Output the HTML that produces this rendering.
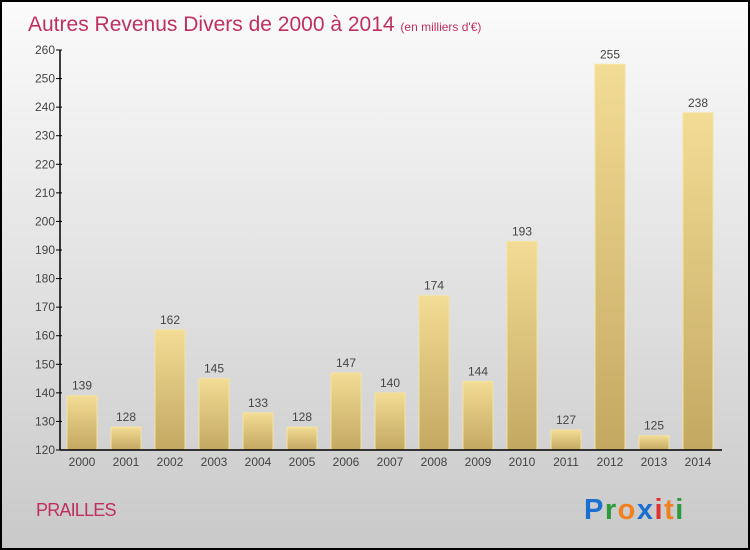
<!DOCTYPE html>
<html><head><meta charset="utf-8"><style>
body{margin:0}
#c{position:relative;width:750px;height:550px;box-sizing:border-box;border:2px solid #000;background:linear-gradient(#fbfbfb,#c9c9c9);font-family:"Liberation Sans",sans-serif;overflow:hidden}
</style></head><body>
<div id="c">
<svg width="746" height="546" style="position:absolute;left:0;top:0" id="svg">
<defs><linearGradient id="bg" x1="0" y1="0" x2="0" y2="1"><stop offset="0" stop-color="#f3dc95"/><stop offset="1" stop-color="#c3a862"/></linearGradient></defs>
<text x="26" y="29" font-size="21" fill="#c0305f" font-weight="normal">Autres Revenus Divers de 2000 à 2014 <tspan font-size="12">(en milliers d'€)</tspan></text>
<g id="plot"></g>
<text x="34" y="514" font-size="18" letter-spacing="-0.8" fill="#c0305f">PRAILLES</text>
<text x="582" y="517" font-size="29" letter-spacing="1.5" font-weight="bold"><tspan fill="#1a6fd0">P</tspan><tspan fill="#2a9a3a">r</tspan><tspan fill="#f08020">o</tspan><tspan fill="#1a6fd0">x</tspan><tspan fill="#e03030">i</tspan><tspan fill="#f08020">t</tspan><tspan fill="#2a9a3a">i</tspan></text>
</svg>
</div>
<script>
const years=["2000","2001","2002","2003","2004","2005","2006","2007","2008","2009","2010","2011","2012","2013","2014"];
const values=[139,128,162,145,133,128,147,140,174,144,193,127,255,125,238];
const yTicks=[120,130,140,150,160,170,180,190,200,210,220,230,240,250,260];
const NS="http://www.w3.org/2000/svg";
const g=document.getElementById('plot');
const ox=-2,oy=-2;
const y=v=>450+oy-(v-120)*400/140;
const x=i=>82+ox+i*44;
function mk(t,a){const e=document.createElementNS(NS,t);for(const k in a)e.setAttribute(k,a[k]);g.appendChild(e);return e;}
yTicks.forEach(v=>{
 const l=mk('line',{x1:56+ox,x2:62+ox,y1:y(v),y2:y(v),stroke:'#000'});
 
 
 const t=mk('text',{x:55+ox,y:y(v)+4,'font-size':12,'text-anchor':'end',fill:'#444'});t.textContent=v;
 
 
});
values.forEach((v,i)=>{
 const r=mk('rect',{x:x(i)-15,y:y(v),width:30,height:y(120)-y(v),fill:'url(#bg)',stroke:'#f5e3a0','stroke-width':1});
 
 
 const t=mk('text',{x:x(i),y:y(v)-6,'font-size':12,'text-anchor':'middle',fill:'#444'});t.textContent=v;
 
 
 const xl=mk('text',{x:x(i),y:466+oy,'font-size':12,'text-anchor':'middle',fill:'#444'});xl.textContent=years[i];
 
 
});
const ya=mk('line',{x1:60+ox,x2:60+ox,y1:y(260),y2:y(120),stroke:'#000','stroke-width':1.5});


const xa=mk('line',{x1:60+ox,x2:722+ox,y1:y(120),y2:y(120),stroke:'#000','stroke-width':1.5});


</script>
</body></html>
